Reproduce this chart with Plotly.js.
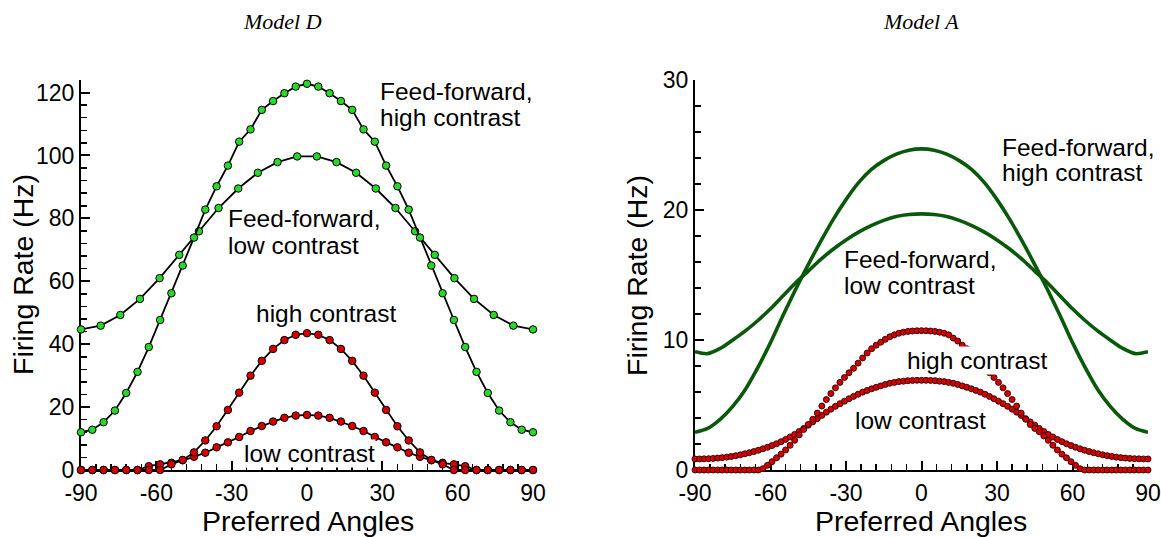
<!DOCTYPE html>
<html>
<head>
<meta charset="utf-8">
<script src="https://cdn.plot.ly/plotly-3.0.1.min.js"></script>
<style>html,body{margin:0;padding:0;background:#fff;}#chart{width:1161px;height:537px;}</style>
</head>
<body>
<div id="chart"></div>
<script>
// ---------- Model D (left) ----------
const angD_fine = [-90,-85.5,-81,-76.5,-72,-67.5,-63,-58.5,-54,-49.5,-45,-40.5,-36,-31.5,-27,-22.5,-18,-13.5,-9,-4.5,0,4.5,9,13.5,18,22.5,27,31.5,36,40.5,45,49.5,54,58.5,63,67.5,72,76.5,81,85.5,90];
const angD_coarse = [-90,-82.17,-74.35,-66.52,-58.7,-50.87,-43.04,-35.22,-27.39,-19.57,-11.74,-3.91,3.91,11.74,19.57,27.39,35.22,43.04,50.87,58.7,66.52,74.35,82.17,90];
const D_ffHigh = [12.0,12.8,15.2,18.9,24.5,31.2,39.1,47.7,56.2,65.0,73.9,82.8,90.2,96.8,104.4,108.3,114.5,117.3,119.8,121.9,122.8,121.9,119.8,117.3,114.5,108.3,104.4,96.8,90.2,82.8,73.9,65.0,56.2,47.7,39.1,31.2,24.5,18.9,15.2,12.8,12.0];
const D_ffLow = [44.7,45.9,49.3,54.4,61.0,68.4,75.9,83.3,89.5,94.5,97.9,99.7,99.7,97.9,94.5,89.5,83.3,75.9,68.4,61.0,54.4,49.3,45.9,44.7];
const D_high = [0,0,0,0,0,0,0,0,1.8,3.2,5.6,9.4,13.9,19.1,24.6,30.0,34.7,38.5,41.3,43.0,43.5,43.0,41.3,38.5,34.7,30.0,24.6,19.1,13.9,9.4,5.6,3.2,1.8,0,0,0,0,0,0,0,0];
const D_low = [0,0,0,0,0,0,1.2,1.8,2.3,3.1,4.2,5.5,7.2,8.8,10.5,12.4,14.0,15.4,16.6,17.3,17.5,17.3,16.6,15.4,14.0,12.4,10.5,8.8,7.2,5.5,4.2,3.1,2.3,1.8,1.2,0,0,0,0,0,0];

// ---------- Model A (right) ----------
const angA_line = [-90,-85,-80,-75,-70,-65,-60,-55,-50,-45,-40,-35,-30,-25,-20,-15,-10,-5,0,5,10,15,20,25,30,35,40,45,50,55,60,65,70,75,80,85,90];
const A_ffHigh = [2.9,3.2,3.9,4.9,6.2,7.9,9.8,11.9,13.9,15.8,17.6,19.3,20.8,22.1,23.1,23.8,24.3,24.6,24.7,24.6,24.3,23.8,23.1,22.1,20.8,19.3,17.6,15.8,13.9,11.9,9.8,7.9,6.2,4.9,3.9,3.2,2.9];
const A_ffLow = [9.1,8.95,9.35,10.0,10.7,11.5,12.4,13.4,14.4,15.3,16.2,17.0,17.7,18.3,18.8,19.2,19.5,19.65,19.7,19.65,19.5,19.2,18.8,18.3,17.7,17.0,16.2,15.3,14.4,13.4,12.4,11.5,10.7,10.0,9.35,8.95,9.1];
const angA_dots = [-90,-88.2,-86.4,-84.6,-82.8,-81,-79.2,-77.4,-75.6,-73.8,-72,-70.2,-68.4,-66.6,-64.8,-63,-61.2,-59.4,-57.6,-55.8,-54,-52.2,-50.4,-48.6,-46.8,-45,-43.2,-41.4,-39.6,-37.8,-36,-34.2,-32.4,-30.6,-28.8,-27,-25.2,-23.4,-21.6,-19.8,-18,-16.2,-14.4,-12.6,-10.8,-9,-7.2,-5.4,-3.6,-1.8,0,1.8,3.6,5.4,7.2,9,10.8,12.6,14.4,16.2,18,19.8,21.6,23.4,25.2,27,28.8,30.6,32.4,34.2,36,37.8,39.6,41.4,43.2,45,46.8,48.6,50.4,52.2,54,55.8,57.6,59.4,61.2,63,64.8,66.6,68.4,70.2,72,73.8,75.6,77.4,79.2,81,82.8,84.6,86.4,88.2,90];
const A_high = [0,0,0,0,0,0,0,0,0,0,0,0,0,0,0,0.10,0.36,0.64,0.94,1.22,1.54,1.90,2.28,2.70,3.12,3.50,3.90,4.38,4.92,5.42,5.88,6.32,6.74,7.12,7.48,7.82,8.22,8.62,9.00,9.33,9.60,9.83,10.05,10.25,10.40,10.52,10.60,10.66,10.69,10.71,
  10.72,
  10.71,10.69,10.66,10.60,10.52,10.40,10.15,9.92,9.60,9.33,9.00,8.62,8.22,7.82,7.48,7.12,6.74,6.32,5.88,5.42,4.92,4.38,3.90,3.50,3.20,2.95,2.62,2.28,1.90,1.54,1.22,0.94,0.64,0.36,0.10,0,0,0,0,0,0,0,0,0,0,0,0,0,0,0];
const A_low = [0.85,0.85,0.86,0.87,0.89,0.92,0.95,0.99,1.04,1.10,1.17,1.25,1.33,1.42,1.52,1.63,1.75,1.88,2.02,2.18,2.35,2.54,2.74,2.96,3.20,3.45,3.70,3.95,4.20,4.45,4.68,4.90,5.10,5.29,5.48,5.66,5.83,5.99,6.12,6.25,6.36,6.47,6.58,6.67,6.74,6.80,6.83,6.87,6.89,6.90,
  6.90,
  6.90,6.89,6.87,6.83,6.80,6.74,6.67,6.58,6.47,6.36,6.25,6.12,5.99,5.83,5.66,5.48,5.29,5.10,4.90,4.68,4.45,4.20,3.95,3.70,3.45,3.20,2.96,2.74,2.54,2.35,2.18,2.02,1.88,1.75,1.63,1.52,1.42,1.33,1.25,1.17,1.10,1.04,0.99,0.95,0.92,0.89,0.87,0.86,0.85,0.85];

const xTickVals = [-90,-60,-30,0,30,60,90];
const xTickText = ['-90','-60','-30','0','30','60','90'];
const titles = ['Model D','Model A'];
const yTitle = 'Firing Rate (Hz)';
const xTitle = 'Preferred Angles';

// ---------- styles ----------
const W = 1161, H = 537;
const SANS = 'Liberation Sans, Arial, Helvetica, sans-serif';
const GREEN_FILL = 'rgb(40,215,40)';
const RED_FILL = 'rgb(215,0,0)';
const DARK_GREEN = 'rgb(10,88,10)';

function dMarkerTrace(x, y, fill, xa, ya) {
  return {x: x, y: y, xaxis: xa, yaxis: ya, type: 'scatter', mode: 'lines+markers', cliponaxis: false,
    line: {color: 'black', width: 1.8},
    marker: {size: 7.5, color: fill, line: {color: 'black', width: 1}}, hoverinfo: 'skip'};
}

const traces = [
  dMarkerTrace(angD_coarse, D_ffLow, GREEN_FILL, 'x', 'y'),
  dMarkerTrace(angD_fine, D_ffHigh, GREEN_FILL, 'x', 'y'),
  dMarkerTrace(angD_fine, D_low, RED_FILL, 'x', 'y'),
  dMarkerTrace(angD_fine, D_high, RED_FILL, 'x', 'y'),
  {x: angA_line, y: A_ffLow, xaxis: 'x2', yaxis: 'y2', type: 'scatter', mode: 'lines', cliponaxis: false,
    line: {color: DARK_GREEN, width: 3.6, shape: 'spline', smoothing: 0.8}, hoverinfo: 'skip'},
  {x: angA_line, y: A_ffHigh, xaxis: 'x2', yaxis: 'y2', type: 'scatter', mode: 'lines', cliponaxis: false,
    line: {color: DARK_GREEN, width: 3.6, shape: 'spline', smoothing: 0.8}, hoverinfo: 'skip'},
  {x: angA_dots, y: A_low, xaxis: 'x2', yaxis: 'y2', type: 'scatter', mode: 'markers', cliponaxis: false,
    marker: {size: 6, color: RED_FILL, line: {color: 'rgb(40,0,0)', width: 0.9}}, hoverinfo: 'skip'},
  {x: angA_dots, y: A_high, xaxis: 'x2', yaxis: 'y2', type: 'scatter', mode: 'markers', cliponaxis: false,
    marker: {size: 6, color: RED_FILL, line: {color: 'rgb(40,0,0)', width: 0.9}}, hoverinfo: 'skip'}
];

const yDom = [(H - 470) / H, (H - 80) / H];
function xAxis(dom, anchor) {
  return {domain: dom, anchor: anchor, range: [-90, 90], tickmode: 'array', tickvals: xTickVals, ticktext: xTickText,
    ticks: 'inside', ticklen: 9, tickwidth: 2, tickcolor: 'black',
    minor: {ticks: 'inside', tickmode: 'linear', tick0: -90, dtick: 6, ticklen: 6, tickwidth: 1.5, tickcolor: 'black', showgrid: false},
    showline: true, linewidth: 2, linecolor: 'black', showgrid: false, zeroline: false, layer: 'below traces',
    tickfont: {family: SANS, size: 23, color: 'black'}, ticklabelstandoff: 1, fixedrange: true};
}
function yAxis(rangeMax, dt, mdt, anchor) {
  return {domain: yDom, anchor: anchor, range: [0, rangeMax], tickmode: 'linear', tick0: 0, dtick: dt,
    ticks: 'inside', ticklen: 9, tickwidth: 2, tickcolor: 'black',
    minor: {ticks: 'inside', tickmode: 'linear', tick0: 0, dtick: mdt, ticklen: 6, tickwidth: 1.5, tickcolor: 'black', showgrid: false},
    showline: true, linewidth: 2, linecolor: 'black', showgrid: false, zeroline: false, layer: 'below traces',
    tickfont: {family: SANS, size: 23, color: 'black'}, fixedrange: true};
}

function px(x) { return x / W; }
function py(y) { return 1 - y / H; }
function label(text, x, y, opts) {
  return Object.assign({text: text, xref: 'paper', yref: 'paper', x: px(x), y: py(y), xanchor: 'left', yanchor: 'middle',
    showarrow: false, font: {family: SANS, size: 24.5, color: 'black'}, bgcolor: 'white', borderpad: 0}, opts || {});
}
const TITLE_FONT = {family: 'Liberation Serif, Times New Roman, serif', size: 22, color: 'black', style: 'italic'};
const AXT_FONT = {family: SANS, size: 28.5, color: 'black'};

const annotations = [
  // panel titles
  {text: titles[0], xref: 'paper', yref: 'paper', x: px(282), y: py(21), xanchor: 'center', yanchor: 'middle', showarrow: false, font: TITLE_FONT},
  {text: titles[1], xref: 'paper', yref: 'paper', x: px(921), y: py(21), xanchor: 'center', yanchor: 'middle', showarrow: false, font: TITLE_FONT},
  // axis titles
  {text: xTitle, xref: 'paper', yref: 'paper', x: px(308), y: py(521), xanchor: 'center', yanchor: 'middle', showarrow: false, font: AXT_FONT},
  {text: xTitle, xref: 'paper', yref: 'paper', x: px(921), y: py(521), xanchor: 'center', yanchor: 'middle', showarrow: false, font: AXT_FONT},
  {text: yTitle, xref: 'paper', yref: 'paper', x: px(23), y: py(275), xanchor: 'center', yanchor: 'middle', textangle: -90, showarrow: false, font: AXT_FONT},
  {text: yTitle, xref: 'paper', yref: 'paper', x: px(637), y: py(276), xanchor: 'center', yanchor: 'middle', textangle: -90, showarrow: false, font: AXT_FONT},
  // left panel curve labels
  label('Feed-forward,', 379, 91.7),
  label('high contrast', 379, 117.5),
  label('Feed-forward,', 227, 218.4),
  label('low contrast', 227, 245),
  label('high contrast', 255, 313.4),
  label('low contrast', 242.5, 453.4),
  // right panel curve labels
  label('Feed-forward,', 1000.5, 147.7),
  label('high contrast', 1000.5, 172.5),
  label('Feed-forward,', 842.5, 260),
  label('low contrast', 842.5, 285.5),
  label('high contrast', 905.5, 360),
  label('low contrast', 853.5, 420)
];

const layout = {
  width: W, height: H, margin: {l: 0, r: 0, t: 0, b: 0}, paper_bgcolor: 'white', plot_bgcolor: 'rgba(0,0,0,0)',
  showlegend: false, hovermode: false,
  xaxis: xAxis([81 / W, 533 / W], 'y'),
  yaxis: yAxis(124, 20, 4, 'x'),
  xaxis2: xAxis([695 / W, 1148 / W], 'y2'),
  yaxis2: yAxis(30, 10, 2, 'x2'),
  annotations: annotations
};

Plotly.newPlot('chart', traces, layout, {displayModeBar: false, staticPlot: true});
</script>
</body>
</html>
